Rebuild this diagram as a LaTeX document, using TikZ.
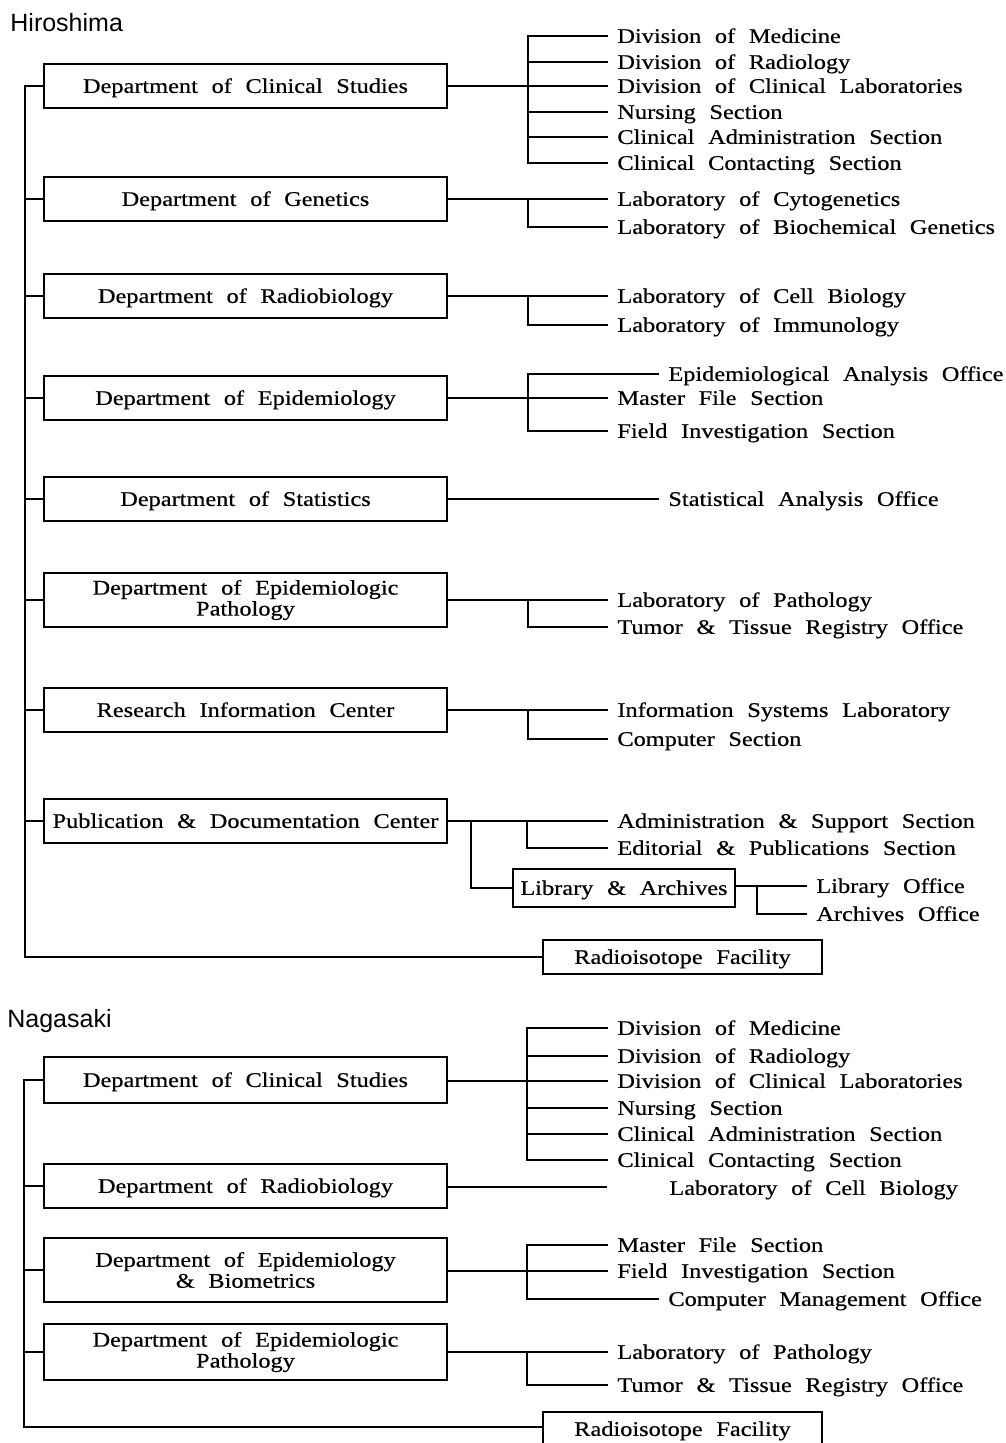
\documentclass[tikz,border=0pt]{standalone}
\usepackage{fontspec}
\setmainfont[FakeStretch=1.17,WordSpace=2.25,FakeBold=0.5]{Liberation Serif}
\newfontfamily\titlefont{Liberation Sans}
\begin{document}
\begin{tikzpicture}[x=0.5pt,y=-0.5pt,
  conn/.style={line width=1pt},
  deptbase/.style={draw,line width=1pt,minimum width=201.5pt,minimum height=22pt,inner sep=0pt,align=center,
    font=\fontsize{10.4}{10.5}\selectfont},
  dept/.style={deptbase,text height=6.9pt,text depth=0pt},
  lab/.style={anchor=west,inner xsep=4.5pt,inner ysep=0pt,text height=6.9pt,text depth=0pt,
    font=\fontsize{10.4}{10.5}\selectfont},
  ttl/.style={anchor=base west,inner sep=0pt,font=\titlefont\fontsize{12.5}{14}\selectfont}]
\useasboundingbox (0,0) rectangle (1005,1443);

% ---------------- Hiroshima ----------------
\node[ttl] (htitle) at (10,32) {Hiroshima};

\node[dept] (hb1) at (245.5,86) {Department of Clinical Studies};
\node[dept] (hb2) at (245.5,199) {Department of Genetics};
\node[dept] (hb3) at (245.5,296) {Department of Radiobiology};
\node[dept] (hb4) at (245.5,398) {Department of Epidemiology};
\node[dept] (hb5) at (245.5,499) {Department of Statistics};
\node[deptbase,minimum height=27pt] (hb6) at (245.5,600) {Department of Epidemiologic\\Pathology};
\node[dept] (hb7) at (245.5,710) {Research Information Center};
\node[dept] (hb8) at (245.5,821) {Publication \& Documentation Center};
\node[dept,minimum width=111pt,minimum height=19pt] (hb9) at (624,888) {Library \& Archives};
\node[dept,minimum width=139.5pt,minimum height=17pt] (hb10) at (682.5,957) {Radioisotope Facility};

\coordinate (hs0) at (25,86);
\coordinate (hsE) at (25,957);
\draw[conn] (hb1.west) -- (hs0) -- (hsE) -- (hb10.west);
\foreach \b in {hb2,hb3,hb4,hb5,hb6,hb7,hb8}{
  \draw[conn] (\b.west) -- (\b.west -| hs0);
}

% children of Clinical Studies
\node[lab] (hc11) at (608,36) {Division of Medicine};
\node[lab] (hc12) at (608,62) {Division of Radiology};
\node[lab] (hc13) at (608,86) {Division of Clinical Laboratories};
\node[lab] (hc14) at (608,112) {Nursing Section};
\node[lab] (hc15) at (608,137) {Clinical Administration Section};
\node[lab] (hc16) at (608,163) {Clinical Contacting Section};
\coordinate (hk1) at (528,86);
\draw[conn] (hb1.east) -- (hc13.west);
\draw[conn] (hc11.west) -- (hc11.west -| hk1) -- (hc16.west -| hk1) -- (hc16.west);
\foreach \c in {hc12,hc14,hc15}{ \draw[conn] (\c.west -| hk1) -- (\c.west); }

% children of Genetics
\node[lab] (hc21) at (608,199) {Laboratory of Cytogenetics};
\node[lab] (hc22) at (608,227) {Laboratory of Biochemical Genetics};
\coordinate (hk2) at (528,199);
\draw[conn] (hb2.east) -- (hc21.west);
\draw[conn] (hk2) |- (hc22.west);

% children of Radiobiology
\node[lab] (hc31) at (608,296) {Laboratory of Cell Biology};
\node[lab] (hc32) at (608,325) {Laboratory of Immunology};
\coordinate (hk3) at (528,296);
\draw[conn] (hb3.east) -- (hc31.west);
\draw[conn] (hk3) |- (hc32.west);

% children of Epidemiology
\node[lab] (hc41) at (659,374) {Epidemiological Analysis Office};
\node[lab] (hc42) at (608,398) {Master File Section};
\node[lab] (hc43) at (608,431) {Field Investigation Section};
\coordinate (hk4) at (528,398);
\draw[conn] (hb4.east) -- (hc42.west);
\draw[conn] (hc41.west) -- (hc41.west -| hk4) -- (hc43.west -| hk4) -- (hc43.west);

% child of Statistics
\node[lab] (hc51) at (659,499) {Statistical Analysis Office};
\draw[conn] (hb5.east) -- (hc51.west);

% children of Epidemiologic Pathology
\node[lab] (hc61) at (608,600) {Laboratory of Pathology};
\node[lab] (hc62) at (608,627) {Tumor \& Tissue Registry Office};
\coordinate (hk6) at (528,600);
\draw[conn] (hb6.east) -- (hc61.west);
\draw[conn] (hk6) |- (hc62.west);

% children of Research Information Center
\node[lab] (hc71) at (608,710) {Information Systems Laboratory};
\node[lab] (hc72) at (608,739) {Computer Section};
\coordinate (hk7) at (528,710);
\draw[conn] (hb7.east) -- (hc71.west);
\draw[conn] (hk7) |- (hc72.west);

% children of Publication & Documentation Center
\node[lab] (hc81) at (608,821) {Administration \& Support Section};
\node[lab] (hc82) at (608,848) {Editorial \& Publications Section};
\coordinate (hk8) at (527,821);
\coordinate (hk8b) at (471,821);
\draw[conn] (hb8.east) -- (hc81.west);
\draw[conn] (hk8) |- (hc82.west);
\draw[conn] (hk8b) |- (hb9.west);

% children of Library & Archives
\node[lab] (hc91) at (807,886) {Library Office};
\node[lab] (hc92) at (807,914) {Archives Office};
\coordinate (hk9) at (757,886);
\draw[conn] (hb9.east |- hc91.west) -- (hc91.west);
\draw[conn] (hk9) |- (hc92.west);

% ---------------- Nagasaki ----------------
\node[ttl] (ntitle) at (7,1027) {Nagasaki};

\node[dept,minimum height=23pt] (nb1) at (245.5,1080) {Department of Clinical Studies};
\node[dept] (nb2) at (245.5,1186) {Department of Radiobiology};
\node[deptbase,minimum height=32pt] (nb3) at (245.5,1270) {Department of Epidemiology\\\& Biometrics};
\node[deptbase,minimum height=28pt] (nb4) at (245.5,1352) {Department of Epidemiologic\\Pathology};
\node[dept,minimum width=139.5pt,minimum height=17pt] (nb5) at (682.5,1429) {Radioisotope Facility};

\coordinate (ns0) at (24,1080);
\coordinate (nsE) at (24,1427);
\draw[conn] (nb1.west) -- (ns0) -- (nsE) -- (nsE -| nb5.west);
\foreach \b in {nb2,nb3,nb4}{
  \draw[conn] (\b.west) -- (\b.west -| ns0);
}

% children of Clinical Studies
\node[lab] (nc11) at (608,1028) {Division of Medicine};
\node[lab] (nc12) at (608,1056) {Division of Radiology};
\node[lab] (nc13) at (608,1081) {Division of Clinical Laboratories};
\node[lab] (nc14) at (608,1108) {Nursing Section};
\node[lab] (nc15) at (608,1134) {Clinical Administration Section};
\node[lab] (nc16) at (608,1160) {Clinical Contacting Section};
\coordinate (nk1) at (527,1081);
\draw[conn] (nb1.east |- nc13.west) -- (nc13.west);
\draw[conn] (nc11.west) -- (nc11.west -| nk1) -- (nc16.west -| nk1) -- (nc16.west);
\foreach \c in {nc12,nc14,nc15}{ \draw[conn] (\c.west -| nk1) -- (\c.west); }

% child of Radiobiology
\coordinate (n2e) at (607,1187);
\node[lab] (nc21) at (660,1188) {Laboratory of Cell Biology};
\draw[conn] (nb2.east |- n2e) -- (n2e);

% children of Epidemiology & Biometrics
\node[lab] (nc31) at (608,1245) {Master File Section};
\node[lab] (nc32) at (608,1271) {Field Investigation Section};
\node[lab] (nc33) at (659,1299) {Computer Management Office};
\coordinate (nk3) at (527,1271);
\draw[conn] (nb3.east |- nc32.west) -- (nc32.west);
\draw[conn] (nc31.west) -- (nc31.west -| nk3) -- (nc33.west -| nk3) -- (nc33.west);

% children of Epidemiologic Pathology
\node[lab] (nc41) at (608,1352) {Laboratory of Pathology};
\node[lab] (nc42) at (608,1385) {Tumor \& Tissue Registry Office};
\coordinate (nk4) at (527,1352);
\draw[conn] (nb4.east) -- (nc41.west);
\draw[conn] (nk4) |- (nc42.west);
\end{tikzpicture}
\end{document}
